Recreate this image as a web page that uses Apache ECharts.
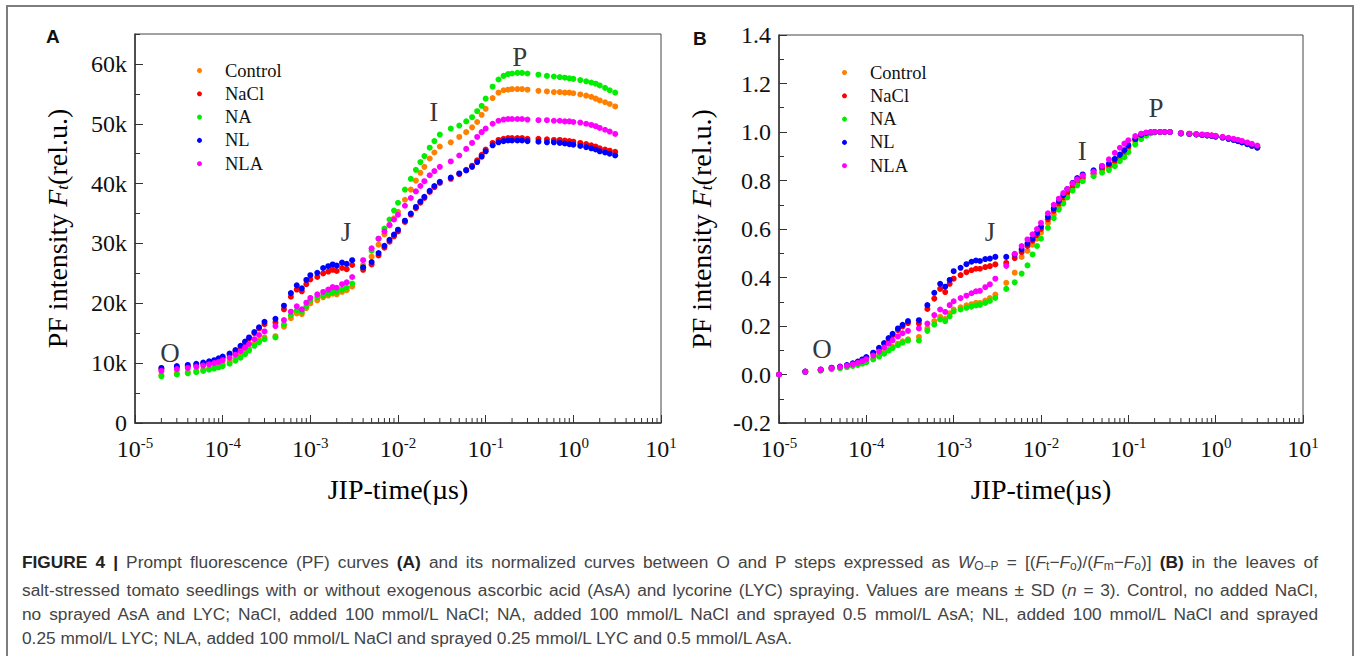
<!DOCTYPE html>
<html>
<head>
<meta charset="utf-8">
<title>Figure 4</title>
<script src="https://cdn.jsdelivr.net/npm/echarts@6/dist/echarts.min.js"></script>
<style>
    html, body { margin: 0; padding: 0; background: #fff; }
    #frame { position: absolute; left: 6px; top: 5px; width: 1348px; height: 720px; border: 2px solid #7d7d7d; box-sizing: border-box; }
    #main { position: absolute; left: 0; top: 0; width: 1360px; height: 656px; }
    #caption { position: absolute; left: 22px; top: 550px; width: 1296px; font-family: "Liberation Sans", Arial, sans-serif; font-size: 17.3px; line-height: 24px; color: #444; }
    #caption .ln { text-align: justify; text-align-last: justify; }
    #caption .ln.last { text-align: left; text-align-last: left; }
    #caption b { color: #222; }
    #caption sub { font-size: 12px; vertical-align: -2px; }
</style>
</head>
<body>
<div id="frame"></div>
<div id="main"></div>
<div id="caption">
    <div class="ln"><b>FIGURE 4 |</b> Prompt fluorescence (PF) curves <b>(A)</b> and its normalized curves between O and P steps expressed as <i>W</i><sub>O&minus;P</sub> = [(<i>F</i><sub>t</sub>&minus;<i>F</i><sub>o</sub>)/(<i>F</i><sub>m</sub>&minus;<i>F</i><sub>o</sub>)] <b>(B)</b> in the leaves of</div>
    <div class="ln">salt-stressed tomato seedlings with or without exogenous ascorbic acid (AsA) and lycorine (LYC) spraying. Values are means &plusmn; SD (<i>n</i> = 3). Control, no added NaCl,</div>
    <div class="ln">no sprayed AsA and LYC; NaCl, added 100 mmol/L NaCl; NA, added 100 mmol/L NaCl and sprayed 0.5 mmol/L AsA; NL, added 100 mmol/L NaCl and sprayed</div>
    <div class="ln last">0.25 mmol/L LYC; NLA, added 100 mmol/L NaCl and sprayed 0.25 mmol/L LYC and 0.5 mmol/L AsA.</div>
</div>
<script>
    // time grid of the JIP test (s): first block from 20 us, then one block per decade
    var firstSteps = [2, 3, 4, 5, 6, 7, 8, 9, 10, 12, 14, 16, 18, 20, 23, 26, 30];
    var blockSteps = [4, 5, 6, 7, 8, 9, 10, 12, 14, 16, 18, 20, 23, 26, 30];
    var blockScales = [1e-4, 1e-3, 1e-2, 1e-1];

    var names = ['Control', 'NaCl', 'NA', 'NL', 'NLA'];
    var colors = ['#ff8000', '#ff0000', '#00ee00', '#0000ff', '#ff00ff'];

    // panel A, PF intensity (k)
    var controlA = [8.0, 8.3, 8.5, 8.7, 8.9, 9.1, 9.3, 9.5, 9.8, 10.2, 10.7, 11.3, 11.8, 12.4, 13.2, 13.8, 14.3,
        14.5, 16.1, 17.5, 18.3, 18.2, 19.2, 20.0, 20.5, 21.0, 21.3, 21.6, 21.5, 21.9, 22.2, 22.8,
        26.4, 27.8, 29.8, 31.5, 33.0, 34.2, 35.3, 37.3, 39.0, 40.5, 41.8, 42.8, 44.2, 45.2, 46.2,
        46.9, 47.8, 48.6, 49.4, 50.3, 51.5, 52.5, 54.3, 55.2, 55.6, 55.7, 55.8, 55.8, 55.8, 55.7,
        55.5, 55.4, 55.3, 55.3, 55.2, 55.2, 55.1, 54.9, 54.7, 54.5, 54.2, 53.9, 53.6, 53.3, 52.9];
    var naclA = [9.0, 9.3, 9.5, 9.7, 9.9, 10.1, 10.3, 10.6, 10.9, 11.4, 12.0, 12.7, 13.4, 14.1, 15.0, 15.8, 16.5,
        16.8, 19.0, 21.1, 22.3, 22.0, 23.2, 24.0, 24.4, 25.0, 25.3, 25.6, 25.4, 25.9, 25.7, 26.4,
        25.6, 26.5, 28.0, 29.3, 30.3, 31.2, 32.0, 33.6, 34.8, 35.9, 36.8, 37.6, 38.6, 39.4, 40.1,
        40.8, 41.6, 42.3, 43.0, 43.9, 44.8, 45.7, 46.8, 47.3, 47.5, 47.6, 47.6, 47.6, 47.6, 47.5,
        47.5, 47.4, 47.3, 47.3, 47.2, 47.1, 47.0, 46.8, 46.6, 46.4, 46.2, 45.9, 45.7, 45.5, 45.3];
    var naA = [7.8, 8.1, 8.3, 8.5, 8.7, 8.9, 9.1, 9.3, 9.5, 9.9, 10.4, 10.9, 11.5, 12.1, 12.9, 13.5, 14.0,
        14.3, 16.5, 18.0, 18.8, 18.6, 19.5, 20.5, 21.0, 21.3, 21.6, 21.9, 21.9, 22.3, 22.6, 23.3,
        26.0, 28.8, 30.8, 32.5, 34.0, 35.5, 36.8, 39.0, 40.8, 42.3, 43.6, 44.6, 46.0, 47.1, 48.2,
        49.2, 49.7, 50.4, 51.1, 52.1, 53.0, 54.2, 56.2, 57.4, 58.0, 58.3, 58.4, 58.5, 58.5, 58.4,
        58.2, 58.0, 57.9, 57.8, 57.7, 57.6, 57.5, 57.3, 57.1, 56.9, 56.7, 56.4, 56.0, 55.6, 55.2];
    var nlA = [9.2, 9.5, 9.7, 9.9, 10.1, 10.3, 10.5, 10.8, 11.1, 11.6, 12.2, 12.9, 13.6, 14.3, 15.2, 16.0, 16.9,
        17.4, 19.6, 21.7, 23.0, 22.5, 23.9, 24.7, 25.1, 25.9, 26.2, 26.5, 26.3, 26.8, 26.6, 27.2,
        26.0, 26.9, 28.4, 29.6, 30.6, 31.5, 32.3, 33.8, 35.0, 36.1, 37.0, 37.8, 38.8, 39.6, 40.3,
        41.0, 41.7, 42.2, 42.8, 43.6, 44.5, 45.4, 46.4, 46.9, 47.1, 47.2, 47.2, 47.2, 47.2, 47.1,
        47.0, 46.9, 46.9, 46.8, 46.7, 46.6, 46.5, 46.3, 46.1, 45.9, 45.7, 45.4, 45.2, 45.0, 44.7];
    var nlaA = [8.7, 9.0, 9.2, 9.4, 9.6, 9.8, 10.0, 10.2, 10.5, 10.9, 11.4, 12.0, 12.6, 13.2, 14.0, 14.7, 15.3,
        16.2, 17.2, 18.6, 19.5, 19.0, 20.1, 20.9, 21.5, 21.9, 22.3, 22.7, 22.6, 23.2, 23.5, 24.4,
        27.2, 29.2, 30.8, 32.0, 33.1, 34.0, 34.8, 36.3, 37.6, 38.7, 39.6, 40.4, 41.4, 42.1, 42.8,
        43.7, 44.7, 45.8, 46.8, 47.8, 48.6, 49.2, 50.0, 50.5, 50.7, 50.8, 50.8, 50.8, 50.8, 50.7,
        50.6, 50.6, 50.5, 50.5, 50.4, 50.4, 50.3, 50.2, 50.0, 49.8, 49.6, 49.3, 49.0, 48.7, 48.3];

    // panel B, normalized W(O-P); first point is at 10 us
    var controlB = [0, 0.010, 0.017, 0.023, 0.027, 0.032, 0.036, 0.041, 0.047, 0.053, 0.065, 0.078, 0.090, 0.102, 0.114, 0.127, 0.137, 0.145,
        0.155, 0.19, 0.22, 0.238, 0.23, 0.252, 0.268, 0.277, 0.285, 0.29, 0.295, 0.295, 0.305, 0.315, 0.33,
        0.378, 0.42, 0.485, 0.51, 0.535, 0.56, 0.585, 0.625, 0.66, 0.69, 0.715, 0.738, 0.767, 0.788, 0.805,
        0.825, 0.843, 0.855, 0.872, 0.89, 0.908, 0.93, 0.96, 0.98, 0.992, 0.997, 1.0, 1.0, 1.0, 1.0,
        0.995, 0.993, 0.991, 0.989, 0.987, 0.985, 0.983, 0.979, 0.975, 0.970, 0.965, 0.960, 0.953, 0.946, 0.939];
    var naclB = [0, 0.012, 0.02, 0.027, 0.032, 0.038, 0.045, 0.052, 0.060, 0.070, 0.088, 0.107, 0.127, 0.146, 0.162, 0.183, 0.198, 0.212,
        0.21, 0.27, 0.313, 0.353, 0.34, 0.374, 0.395, 0.41, 0.422, 0.43, 0.436, 0.436, 0.443, 0.447, 0.454,
        0.46, 0.48, 0.505, 0.53, 0.552, 0.575, 0.6, 0.64, 0.675, 0.705, 0.73, 0.75, 0.778, 0.797, 0.812,
        0.83, 0.85, 0.862, 0.88, 0.9, 0.918, 0.94, 0.968, 0.985, 0.995, 0.999, 1.0, 1.0, 1.0, 1.0,
        0.994, 0.992, 0.990, 0.988, 0.986, 0.984, 0.982, 0.978, 0.973, 0.968, 0.963, 0.958, 0.951, 0.944, 0.937];
    var naB = [0, 0.010, 0.016, 0.022, 0.026, 0.030, 0.035, 0.040, 0.045, 0.051, 0.062, 0.074, 0.086, 0.098, 0.109, 0.121, 0.131, 0.140,
        0.14, 0.18, 0.206, 0.227, 0.22, 0.24, 0.26, 0.268, 0.275, 0.28, 0.285, 0.287, 0.295, 0.303, 0.316,
        0.353, 0.38, 0.416, 0.45, 0.495, 0.53, 0.56, 0.605, 0.645, 0.68, 0.705, 0.73, 0.758, 0.78, 0.797,
        0.818, 0.832, 0.843, 0.859, 0.88, 0.896, 0.917, 0.948, 0.97, 0.985, 0.994, 0.998, 1.0, 1.0, 1.0,
        0.994, 0.992, 0.990, 0.988, 0.986, 0.984, 0.982, 0.978, 0.973, 0.968, 0.963, 0.958, 0.951, 0.944, 0.937];
    var nlB = [0, 0.012, 0.02, 0.028, 0.033, 0.039, 0.046, 0.053, 0.062, 0.072, 0.090, 0.110, 0.130, 0.150, 0.168, 0.190, 0.205, 0.220,
        0.224, 0.286, 0.337, 0.374, 0.362, 0.39, 0.426, 0.44, 0.455, 0.465, 0.47, 0.468, 0.476, 0.478, 0.485,
        0.485, 0.495, 0.516, 0.54, 0.56, 0.585, 0.61, 0.65, 0.685, 0.715, 0.74, 0.765, 0.79, 0.81, 0.825,
        0.842, 0.859, 0.87, 0.889, 0.907, 0.925, 0.946, 0.972, 0.988, 0.996, 0.999, 1.0, 1.0, 1.0, 1.0,
        0.994, 0.992, 0.990, 0.988, 0.986, 0.984, 0.981, 0.977, 0.972, 0.967, 0.962, 0.957, 0.950, 0.943, 0.935];
    var nlaB = [0, 0.011, 0.019, 0.026, 0.031, 0.036, 0.042, 0.048, 0.055, 0.063, 0.078, 0.094, 0.111, 0.127, 0.141, 0.157, 0.170, 0.180,
        0.19, 0.21, 0.245, 0.268, 0.258, 0.286, 0.302, 0.315, 0.325, 0.335, 0.343, 0.345, 0.36, 0.372, 0.395,
        0.448, 0.498, 0.53, 0.557, 0.578, 0.6, 0.625, 0.665, 0.7, 0.725, 0.748, 0.765, 0.788, 0.805, 0.82,
        0.836, 0.86, 0.887, 0.914, 0.935, 0.952, 0.966, 0.983, 0.993, 0.998, 1.0, 1.0, 1.0, 1.0, 1.0,
        0.995, 0.993, 0.991, 0.990, 0.988, 0.986, 0.984, 0.980, 0.976, 0.972, 0.968, 0.963, 0.957, 0.951, 0.944];

    // step labels [time, value, text]
    var stepsA = [[2.5e-5, 11.7, 'O'], [2.55e-3, 31.9, 'J'], [0.0256, 51.9, 'I'], [0.245, 61.2, 'P']];
    var stepsB = [[3.1e-5, 0.107, 'O'], [2.6e-3, 0.586, 'J'], [0.0296, 0.92, 'I'], [0.208, 1.097, 'P']];

    var minorMult = [2, 3, 4, 5, 6, 7, 8, 9];
    var decades = [1e-5, 1e-4, 1e-3, 1e-2, 1e-1, 1];

    var serif = '"Liberation Serif", "Times New Roman", serif';

    var timeA = firstSteps.map(function(m) { return m * 1e-5; });
    blockScales.forEach(function(s) {
        blockSteps.forEach(function(m) { timeA.push(m * s); });
    });
    var timeB = [1e-5].concat(timeA);

    var minorTicks = [];
    decades.forEach(function(d) {
        minorMult.forEach(function(m) { minorTicks.push(m * d); });
    });

    function pairs(time, vals) {
        return time.map(function(t, i) { return [t, vals[i]]; });
    }

    function tickItem(params, api) {
        var p = api.coord([api.value(0), api.value(1)]);
        return {
            type: 'line',
            shape: { x1: p[0], y1: p[1], x2: p[0], y2: p[1] - 5 },
            style: { stroke: '#333', lineWidth: 1 }
        };
    }

    function xAxisFor(grid) {
        return {
            gridIndex: grid,
            type: 'log',
            logBase: 10,
            min: 1e-5,
            max: 10,
            interval: 1,
            name: 'JIP-time(\u00b5s)',
            nameLocation: 'middle',
            nameGap: 52,
            nameTextStyle: { fontFamily: serif, fontSize: 28, color: '#000' },
            axisLine: { onZero: false, lineStyle: { color: '#333', width: 1.5 } },
            axisTick: { inside: true, length: 8, lineStyle: { color: '#333' } },
            splitLine: { show: false },
            axisLabel: {
                margin: 12,
                formatter: function(v) {
                    return '{b|10}{s|' + Math.round(Math.log10(v)) + '}';
                },
                rich: {
                    b: { fontFamily: serif, fontSize: 24, color: '#111', lineHeight: 28 },
                    s: { fontFamily: serif, fontSize: 15, color: '#111', verticalAlign: 'top', lineHeight: 15 }
                }
            }
        };
    }

    var yName = 'PF intensity {it|F}{sub|t}(rel.u.)';
    var yNameStyle = {
        fontFamily: serif, fontSize: 28, color: '#000',
        rich: {
            it: { fontFamily: serif, fontSize: 28, fontStyle: 'italic', color: '#000' },
            sub: { fontFamily: serif, fontSize: 17, fontStyle: 'italic', color: '#000', verticalAlign: 'bottom', lineHeight: 17 }
        }
    };

    function legendFor(left, top) {
        return {
            data: names,
            orient: 'vertical',
            left: left,
            top: top,
            padding: 0,
            icon: 'circle',
            itemWidth: 5,
            itemHeight: 5,
            itemGap: 4.3,
            selectedMode: false,
            textStyle: { fontFamily: serif, fontSize: 18.5, color: '#111', lineHeight: 19, padding: [0, 0, 0, 18] }
        };
    }

    var seriesA = [controlA, naclA, naA, nlA, nlaA];
    var seriesB = [controlB, naclB, naB, nlB, nlaB];
    var series = [];

    seriesA.forEach(function(vals, i) {
        series.push({
            name: names[i], type: 'scatter', xAxisIndex: 0, yAxisIndex: 0,
            symbolSize: 6, itemStyle: { color: colors[i], opacity: 1 },
            data: pairs(timeA, vals)
        });
    });
    seriesB.forEach(function(vals, i) {
        series.push({
            name: names[i], type: 'scatter', xAxisIndex: 1, yAxisIndex: 2,
            symbolSize: 6, itemStyle: { color: colors[i], opacity: 1 },
            data: pairs(timeB, vals)
        });
    });

    [[stepsA, 0, 0], [stepsB, 1, 2]].forEach(function(s) {
        series.push({
            name: 'steps', type: 'scatter', xAxisIndex: s[1], yAxisIndex: s[2],
            symbolSize: 0, silent: true,
            label: { show: true, position: 'inside', formatter: '{b}', fontFamily: serif, fontSize: 27, color: '#000' },
            data: s[0].map(function(p) { return { name: p[2], value: [p[0], p[1]] }; })
        });
    });

    series.push({
        name: 'minorA', type: 'custom', xAxisIndex: 0, yAxisIndex: 0, silent: true,
        renderItem: tickItem, data: minorTicks.map(function(t) { return [t, 0]; })
    });
    series.push({
        name: 'minorB', type: 'custom', xAxisIndex: 1, yAxisIndex: 2, silent: true,
        renderItem: tickItem, data: minorTicks.map(function(t) { return [t, -0.2]; })
    });

    var option = {
        animation: false,
        textStyle: { fontFamily: serif },
        grid: [
            { left: 135, top: 34, width: 526, height: 389, show: true, borderColor: '#444', borderWidth: 1 },
            { left: 779, top: 35, width: 524, height: 388, show: true, borderColor: '#444', borderWidth: 1 }
        ],
        legend: [legendFor(197, 61), legendFor(842, 63)],
        xAxis: [xAxisFor(0), xAxisFor(1)],
        yAxis: [
            {
                gridIndex: 0, type: 'value', min: 0, max: 65, interval: 10,
                name: yName, nameLocation: 'middle', nameRotate: 90, nameGap: 64,
                nameTextStyle: yNameStyle,
                axisLine: { show: true, lineStyle: { color: '#333', width: 1.5 } },
                axisTick: { show: true, inside: true, length: 8, lineStyle: { color: '#333' } },
                splitLine: { show: false },
                axisLabel: {
                    margin: 8, showMaxLabel: false, fontFamily: serif, fontSize: 24, color: '#111',
                    formatter: function(v) { return v === 0 ? '0' : v + 'k'; }
                }
            },
            {
                gridIndex: 0, type: 'value', min: 0, max: 65, interval: 5, position: 'left',
                axisLine: { show: false },
                axisTick: { show: true, inside: true, length: 5, lineStyle: { color: '#333' } },
                axisLabel: { show: false },
                splitLine: { show: false }
            },
            {
                gridIndex: 1, type: 'value', min: -0.2, max: 1.4, interval: 0.2,
                name: yName, nameLocation: 'middle', nameRotate: 90, nameGap: 64,
                nameTextStyle: yNameStyle,
                axisLine: { show: true, onZero: false, lineStyle: { color: '#333', width: 1.5 } },
                axisTick: { show: true, inside: true, length: 8, lineStyle: { color: '#333' } },
                minorTick: { show: true, splitNumber: 2, length: 5, lineStyle: { color: '#333' } },
                splitLine: { show: false },
                axisLabel: {
                    margin: 8, fontFamily: serif, fontSize: 24, color: '#111',
                    formatter: function(v) { return v.toFixed(1); }
                }
            }
        ],
        graphic: [
            { type: 'text', left: 46, top: 27, style: { text: 'A', fontFamily: '"Liberation Sans", Arial, sans-serif', fontWeight: 'bold', fontSize: 19, fill: '#111' } },
            { type: 'text', left: 693, top: 29, style: { text: 'B', fontFamily: '"Liberation Sans", Arial, sans-serif', fontWeight: 'bold', fontSize: 19, fill: '#111' } }
        ],
        series: series
    };

    var myChart = echarts.init(document.getElementById('main'), null, { renderer: 'svg' });
    myChart.setOption(option);
</script>
</body>
</html>
